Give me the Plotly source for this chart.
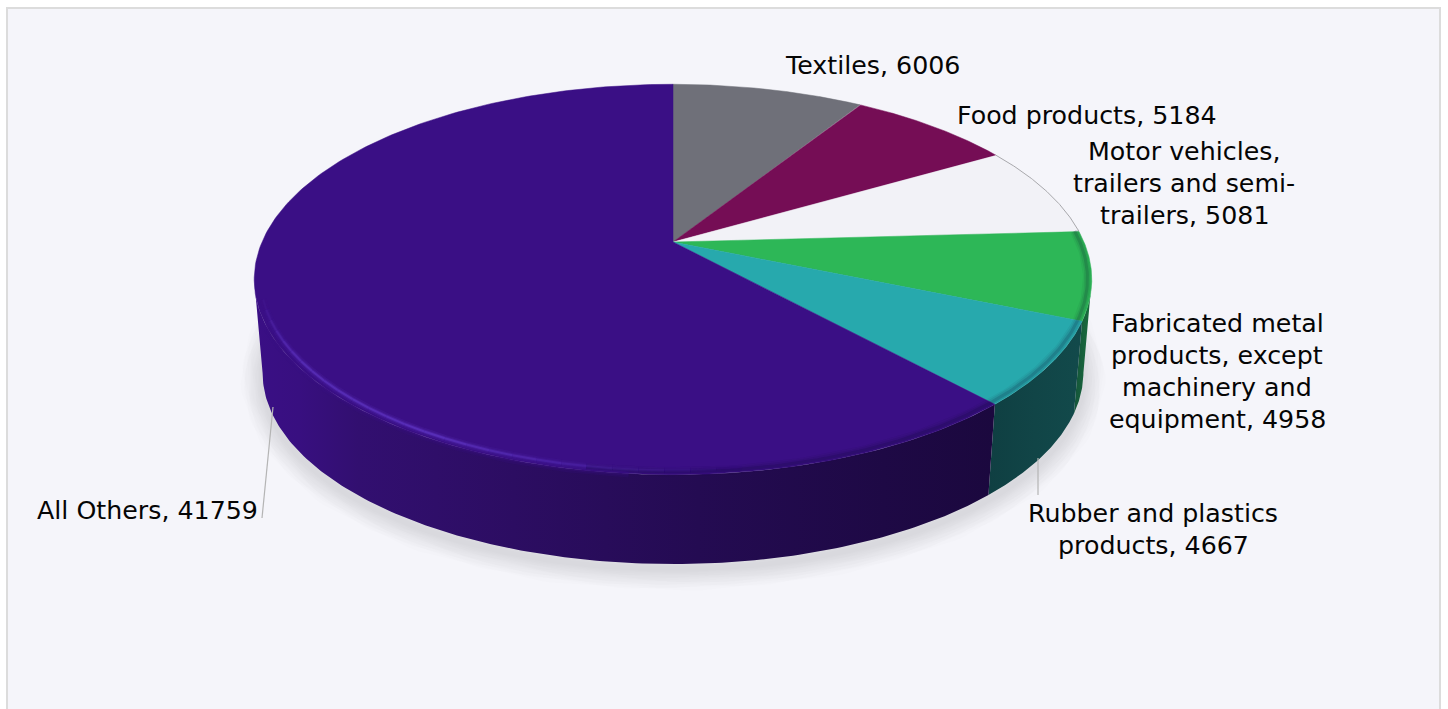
import numpy as np
import plotly.graph_objects as go

# ---- data, clockwise from 12 o'clock ----
categories = ["Textiles", "Food products", "Motor vehicles, trailers and semi-trailers",
              "Fabricated metal products, except machinery and equipment",
              "Rubber and plastics products", "All Others"]
values = [6006, 5184, 5081, 4958, 4667, 41759]
label_lines = [["Textiles, 6006"], ["Food products, 5184"],
               ["Motor vehicles,", "trailers and semi-", "trailers, 5081"],
               ["Fabricated metal", "products, except", "machinery and", "equipment, 4958"],
               ["Rubber and plastics", "products, 4667"], ["All Others, 41759"]]
top_colors = ["#6F7079", "#750D55", "#F2F2F7", "#2DB757", "#27A9AD", "#3A0F85"]
side_scales = [None, None, None,
               [[0, "#14533A"], [1, "#1A6E3C"]],
               [[0, "#0F3F42"], [0.5, "#114547"], [1, "#124A4B"]],
               [[0, "#3A0F85"], [0.06, "#380F80"], [0.14, "#320F70"], [0.35, "#2C0D62"],
                [0.6, "#240B52"], [0.85, "#1E0945"], [1, "#1B083E"]]]
label_pos = [(872, 65, "center"), (1087, 115, "center"), (1184, 151, "center"),
             (1217, 323, "center"), (1153, 513, "center"), (260, 510, "right")]

# ---- projection of the disc (perspective, seen from above) ----
CX, CY, A, B, P = 673.0, 242.0, 188.0, 411.0, 0.192
SCALE_BOTTOM, Y0_BOTTOM = 0.98, 336.0
FONT = "DejaVu Sans"
FONT_SIZE = 25.3
LINE_STEP = 32.2


def top_xy(theta, k=1.0):
    u, v = np.sin(theta) * k, -np.cos(theta) * k
    w = 1 - P * v
    return CX + B * u / w, CY + A * v / w


def bottom_xy(theta):
    x, y = top_xy(theta)
    return CX + SCALE_BOTTOM * (x - CX), Y0_BOTTOM + SCALE_BOTTOM * (y - CY)


vals = np.array(values, dtype=float)
edges = np.concatenate([[0], np.cumsum(vals)]) / vals.sum() * 2 * np.pi

fig = go.Figure()
NOHOVER = dict(hoverinfo="skip", showlegend=False)

# soft shadow under the disc
full = np.linspace(0, 2 * np.pi, 361)
sx, sy = bottom_xy(full)
for width in range(44, 2, -3):
    fig.add_trace(go.Scatter(x=sx, y=sy + 5, mode="lines",
                             line=dict(color="rgba(105,105,125,0.016)", width=width), **NOHOVER))

# side walls: only the front half between the two silhouette tangents is swept
TIP_RIGHT = np.arccos(-P)
TIP_LEFT = 2 * np.pi - TIP_RIGHT
for i in range(len(values)):
    if side_scales[i] is None:
        continue
    th = np.linspace(max(edges[i], TIP_RIGHT), min(edges[i + 1], TIP_LEFT), 160)
    xt, yt = top_xy(th)
    xb, yb = bottom_xy(th)
    fig.add_trace(go.Scatter(
        x=np.concatenate([xt, xb[::-1]]), y=np.concatenate([yt, yb[::-1]]),
        mode="lines", line=dict(width=0), fill="toself",
        fillgradient=dict(type="horizontal", colorscale=side_scales[i]), **NOHOVER))

# top face wedges
for i in range(len(values)):
    th = np.linspace(edges[i], edges[i + 1], 240)
    x, y = top_xy(th)
    fig.add_trace(go.Scatter(
        x=np.concatenate([[CX], x, [CX]]), y=np.concatenate([[CY], y, [CY]]),
        mode="lines", fill="toself", fillcolor=top_colors[i],
        line=dict(color=top_colors[i], width=0.5),
        name=categories[i], text=f"{categories[i]}: {values[i]}", hoverinfo="text", showlegend=False))

# grey edge of the pale slice
th = np.linspace(edges[2], edges[3], 80)
x, y = top_xy(th)
fig.add_trace(go.Scatter(x=x, y=y, mode="lines", line=dict(color="#A8A8AC", width=1), **NOHOVER))

# dark blur on the rim of the right-hand slices and front
th = np.linspace(edges[3], np.radians(190), 120)
x, y = top_xy(th, 0.99)
for width, alpha in [(9, 0.05), (6, 0.08), (3, 0.14)]:
    fig.add_trace(go.Scatter(x=x, y=y, mode="lines",
                             line=dict(color=f"rgba(10,10,40,{alpha})", width=width), **NOHOVER))

# soft purple transition from the top face into the wall on the left of the front
th = np.linspace(np.radians(185), TIP_LEFT - np.radians(14), 120)
x, y = top_xy(th, 1.0)
for width, alpha in [(8, 0.18), (4, 0.3)]:
    fig.add_trace(go.Scatter(x=x, y=y, mode="lines",
                             line=dict(color=f"rgba(58,15,133,{alpha})", width=width), **NOHOVER))

# bevel highlight on the big slice, fading towards the front and the far left
steps = np.radians(np.arange(172, 256, 3.0))
for a0, a1 in zip(steps[:-1], steps[1:]):
    mid = np.degrees((a0 + a1) / 2)
    alpha = float(np.interp(mid, [172, 190, 210, 235, 254], [0, 0.3, 0.85, 0.7, 0.0]))
    th = np.linspace(a0, a1, 6)
    x, y = top_xy(th, 0.985)
    for width, factor in [(7, 0.18), (4, 0.32), (2, 0.7)]:
        fig.add_trace(go.Scatter(x=x, y=y, mode="lines",
                                 line=dict(color=f"rgba(98,56,200,{alpha * factor:.3f})", width=width),
                                 **NOHOVER))

# data labels
for lines, (lx, ly, anchor) in zip(label_lines, label_pos):
    for n, line in enumerate(lines):
        fig.add_annotation(x=lx, y=ly + n * LINE_STEP, text=line, showarrow=False,
                           xanchor=anchor, yanchor="middle", align=anchor,
                           font=dict(family=FONT, size=FONT_SIZE, color="#050505"))

shapes = [
    dict(type="rect", x0=7, y0=8, x1=1440, y1=720, layer="below",
         fillcolor="#F5F5FA", line=dict(color="#DCDCDC", width=2)),
    dict(type="line", x0=273, y0=407, x1=262, y1=518, line=dict(color="#B4B4B4", width=1.2)),
    dict(type="line", x0=1038, y0=458, x1=1038, y1=495, line=dict(color="#B4B4B4", width=1.2)),
]

fig.update_layout(
    width=1448, height=709, margin=dict(l=0, r=0, t=0, b=0), autosize=False,
    paper_bgcolor="#FFFFFF", plot_bgcolor="rgba(0,0,0,0)", shapes=shapes, showlegend=False,
    xaxis=dict(range=[0, 1448], visible=False, fixedrange=True),
    yaxis=dict(range=[709, 0], visible=False, fixedrange=True),
)
fig.write_html("out.html", config={"displayModeBar": False},
               default_width="1448px", default_height="709px",
               post_script="document.body.style.margin='0';")
